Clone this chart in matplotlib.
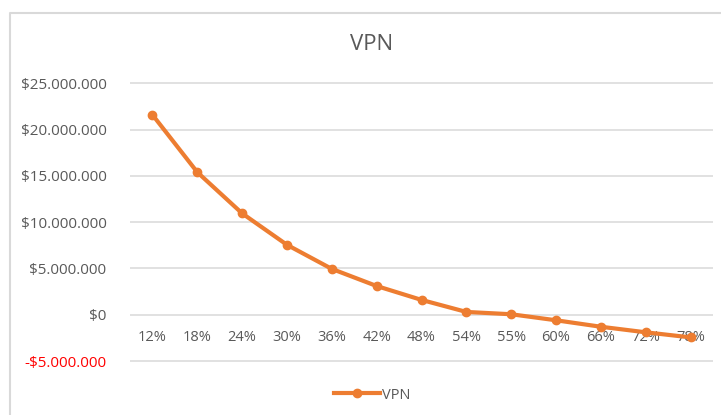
import matplotlib.pyplot as plt
from matplotlib.lines import Line2D
from matplotlib.ticker import FuncFormatter

plt.rcParams['font.family'] = ['Open Sans', 'DejaVu Sans']

tasas = ['12%', '18%', '24%', '30%', '36%', '42%', '48%', '54%', '55%', '60%', '66%', '72%', '78%']
vpn = [21600000, 15400000, 10950000, 7550000, 4950000, 3100000, 1600000,
       300000, 50000, -600000, -1300000, -1900000, -2450000]

orange = '#ED7D31'
gray = '#595959'
grid_c = '#D9D9D9'

W, H = 721, 415
fig = plt.figure(figsize=(W / 100, H / 100), dpi=100)
ax = fig.add_axes([130 / W, 1 - 361 / H, (713 - 130) / W, (361 - 83.3) / H])

x = list(range(len(tasas)))
ax.plot(x, vpn, color=orange, lw=3, marker='o', ms=6, solid_capstyle='round',
        solid_joinstyle='round', label='VPN', zorder=3)

ymin, ymax = -5000000, 25000000
ax.set_xlim(-0.5, len(tasas) - 0.5)
ax.set_ylim(ymin, ymax)
ax.set_yticks(range(ymin, ymax + 1, 5000000))


def fmt(v, pos):
    s = '{:,.0f}'.format(abs(v)).replace(',', '.')
    return ('-$' if v < 0 else '$') + s


ax.yaxis.set_major_formatter(FuncFormatter(fmt))
# lineas de la cuadricula
ax.hlines(ax.get_yticks(), -0.5, len(tasas) - 0.5, colors=grid_c, lw=1.1,
          clip_on=False, zorder=1)
for s in ax.spines.values():
    s.set_visible(False)
ax.tick_params(axis='y', length=0, pad=17, labelsize=11, labelcolor=gray)
for lab in ax.get_yticklabels():
    if lab.get_text().startswith('-'):
        lab.set_color('#FF0000')

# etiquetas de categorias justo debajo de la linea de cero
ax.set_xticks(x)
ax.set_xticklabels(tasas)
ax.tick_params(axis='x', length=0, pad=-22, labelsize=10.5, labelcolor=gray)

fig.text(372 / W, 1 - 45 / H, 'VPN', ha='center', va='center', fontsize=16, color=gray)

leg = fig.legend(handles=[Line2D([], [], color=orange, lw=3, marker='o', ms=6)],
                 labels=['VPN'], loc='center', bbox_to_anchor=(372 / W, 1 - 395 / H),
                 frameon=False, fontsize=10.5, handlelength=3.2, handletextpad=0.1)
for t in leg.get_texts():
    t.set_color(gray)

# borde del area del grafico
fig.add_artist(Line2D([9.5 / W, 9.5 / W, 1], [0, 1 - 13.5 / H, 1 - 13.5 / H],
                      transform=fig.transFigure, color=grid_c, lw=1.5))

fig.savefig('out.png', dpi=100)
